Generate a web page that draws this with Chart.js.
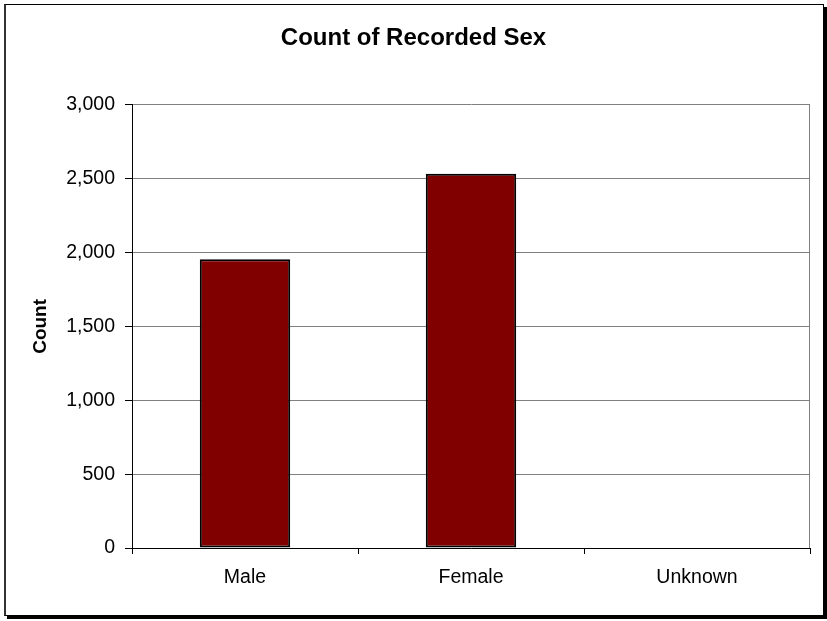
<!DOCTYPE html>
<html>
<head>
<meta charset="utf-8">
<title>Count of Recorded Sex</title>
<script src="https://cdn.jsdelivr.net/npm/chart.js@4/dist/chart.umd.min.js"></script>
<style>
    html, body { margin: 0; padding: 0; background: #fff; }
    #frame {
        position: absolute; left: 4px; top: 4px;
        width: 820px; height: 612px; box-sizing: border-box;
        border: 1px solid #000; border-left: 2px solid #333;
        box-shadow: 3px 3px 0 #000;
    }
    #wrap { position: absolute; left: 0; top: 0; width: 827px; height: 621px; }
</style>
</head>
<body>
<div id="frame"></div>
<div id="wrap"><canvas id="sexChart" width="827" height="621"></canvas></div>
<script>
// Chart data
const categories = ['Male', 'Female', 'Unknown'];
const counts = [1955, 2533, 0];
const yTicks = [0, 500, 1000, 1500, 2000, 2500, 3000];

const barRed = '#800000';
const gridGrey = '#808080';
const fontFamily = '"Liberation Sans", Arial, sans-serif';

// gray border on the right of the plot area (Excel style)
const plotBorder = {
    id: 'plotBorder',
    afterDraw(chart) {
        const { ctx, chartArea } = chart;
        ctx.save();
        ctx.strokeStyle = gridGrey;
        ctx.lineWidth = 1;
        ctx.beginPath();
        ctx.moveTo(chartArea.right - 0.5, chartArea.top);
        ctx.lineTo(chartArea.right - 0.5, chartArea.bottom);
        ctx.stroke();
        ctx.restore();
    }
};

document.addEventListener('DOMContentLoaded', function () {
    const ctx = document.getElementById('sexChart').getContext('2d');
    new Chart(ctx, {
        type: 'bar',
        data: {
            labels: categories,
            datasets: [{
                label: 'Count',
                data: counts,
                backgroundColor: barRed,
                borderColor: '#000',
                borderWidth: 2,
                borderSkipped: false,
                barPercentage: 0.4,
                categoryPercentage: 1
            }]
        },
        options: {
            responsive: false,
            animation: false,
            layout: {
                padding: { top: 0, right: 17, bottom: 0, left: 17 }
            },
            plugins: {
                legend: { display: false },
                tooltip: { enabled: false },
                title: {
                    display: true,
                    text: 'Count of Recorded Sex',
                    color: '#000',
                    font: { family: fontFamily, size: 24, weight: 'bold' },
                    padding: { top: 24, bottom: 52 }
                }
            },
            scales: {
                x: {
                    grid: {
                        display: true,
                        drawOnChartArea: false,
                        drawTicks: true,
                        tickLength: 6,
                        tickColor: '#000',
                        offset: true
                    },
                    border: { color: '#000', width: 1 },
                    ticks: {
                        color: '#000',
                        padding: 12,
                        font: { family: fontFamily, size: 19.5 }
                    },
                    afterFit: (scale) => { scale.height = 73; }
                },
                y: {
                    min: yTicks[0],
                    max: yTicks[yTicks.length - 1],
                    grid: {
                        color: gridGrey,
                        lineWidth: 1,
                        tickLength: 7,
                        tickColor: '#000'
                    },
                    border: { color: '#000', width: 1 },
                    ticks: {
                        stepSize: yTicks[1] - yTicks[0],
                        color: '#000',
                        padding: 10,
                        font: { family: fontFamily, size: 19.5 },
                        callback: (v) => v.toLocaleString('en-US')
                    },
                    title: {
                        display: true,
                        text: 'Count',
                        color: '#000',
                        padding: { top: 12, bottom: 0 },
                        font: { family: fontFamily, size: 19, weight: 'bold' }
                    },
                    afterFit: (scale) => { scale.width = 115; }
                }
            }
        },
        plugins: [plotBorder]
    });
});
</script>
</body>
</html>
